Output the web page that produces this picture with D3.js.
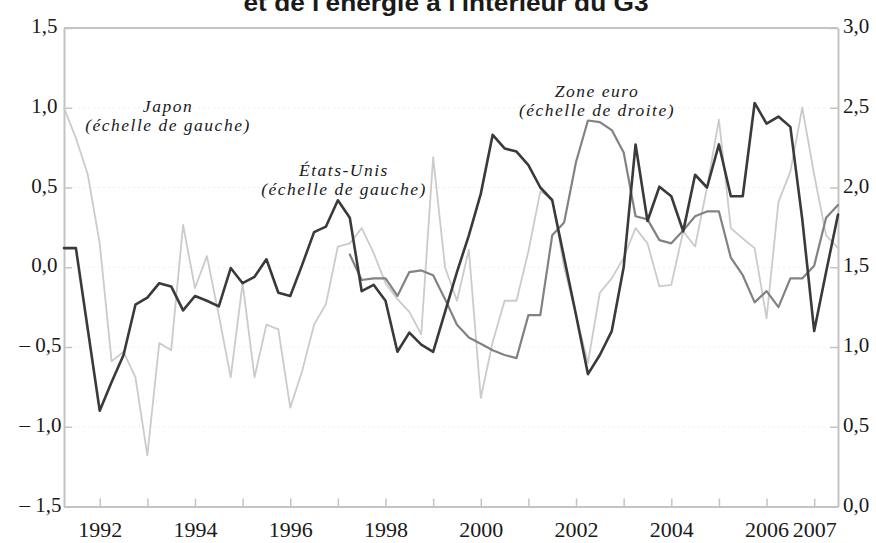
<!DOCTYPE html>
<html>
<head>
<meta charset="utf-8">
<script src="https://cdn.jsdelivr.net/npm/d3@7"></script>
<style>
  html, body { margin: 0; padding: 0; background: #fff; }
  svg { display: block; }
</style>
</head>
<body>
<svg id="chart" width="876" height="543"></svg>
<script>
// ---------- DATA (quarterly, 1991 T2 -> 2007 T3) ----------
const startYear = 1991.25;
const yearTicks = [1992,1993,1994,1995,1996,1997,1998,1999,2000,2001,2002,2003,2004,2005,2006,2007];
const yearLabels = ["1992","","1994","","1996","","1998","","2000","","2002","","2004","","2006","2007"];
const leftTicks = [-1.5,-1.0,-0.5,0.0,0.5,1.0,1.5];
const leftTickLabels = ["– 1,5","– 1,0","– 0,5","0,0","0,5","1,0","1,5"];
const rightTicks = [0.0,0.5,1.0,1.5,2.0,2.5,3.0];
const rightTickLabels = ["0,0","0,5","1,0","1,5","2,0","2,5","3,0"];

// Japon (échelle de gauche)
const japon = [1.00,0.81,0.58,0.15,-0.59,-0.53,-0.69,-1.18,-0.475,-0.52,
  0.265,-0.13,0.07,-0.30,-0.69,-0.10,-0.69,-0.36,-0.39,-0.88,
  -0.65,-0.36,-0.23,0.13,0.15,0.245,0.09,-0.10,-0.20,-0.28,
  -0.42,0.69,0.00,-0.21,0.11,-0.82,-0.47,-0.21,-0.21,0.10,
  0.475,0.43,0.00,-0.30,-0.60,-0.16,-0.07,0.06,0.245,0.15,
  -0.12,-0.11,0.225,0.13,0.50,0.925,0.245,0.18,0.12,-0.32,
  0.41,0.60,1.00,0.58,0.20,0.12];

// États-Unis (échelle de gauche)
const etatsUnis = [0.12,0.12,-0.39,-0.90,-0.72,-0.55,-0.235,-0.19,-0.10,-0.12,
  -0.27,-0.18,-0.21,-0.245,-0.005,-0.10,-0.06,0.05,-0.16,-0.18,
  0.015,0.22,0.255,0.42,0.31,-0.15,-0.11,-0.21,-0.53,-0.41,
  -0.485,-0.53,-0.28,-0.03,0.20,0.46,0.83,0.745,0.725,0.64,
  0.50,0.42,0.06,-0.30,-0.67,-0.55,-0.40,0.00,0.77,0.29,
  0.505,0.445,0.225,0.58,0.50,0.77,0.445,0.445,1.03,0.90,
  0.945,0.88,0.30,-0.40,-0.03,0.33];

// Zone euro (échelle de droite) — starts in 1997 T2
const zoneEuro = [null,null,null,null,null,null,null,null,null,null,
  null,null,null,null,null,null,null,null,null,null,
  null,null,null,null,1.58,1.42,1.43,1.43,1.32,1.47,
  1.48,1.45,1.30,1.14,1.06,1.02,0.98,0.95,0.93,1.20,
  1.20,1.70,1.78,2.16,2.42,2.41,2.36,2.22,1.82,1.80,
  1.67,1.65,1.73,1.82,1.85,1.85,1.56,1.45,1.28,1.35,
  1.25,1.43,1.43,1.51,1.81,1.89];

const quarters = japon.map((_, i) => startYear + i * 0.25);

// ---------- LAYOUT ----------
const svg = d3.select("#chart");
const L = 64, R = 838, T = 28, B = 506.5;
const frameColor = "#c4c4c4";

const x = d3.scaleLinear().domain([startYear, quarters[quarters.length - 1]]).range([L, R]);
const yL = d3.scaleLinear().domain([-1.5, 1.5]).range([B, T]);
const yR = d3.scaleLinear().domain([0, 3]).range([B, T]);

// faint dotted gridlines
svg.append("g").selectAll("line")
  .data(leftTicks.slice(1, -1))
  .join("line")
  .attr("x1", L + 9).attr("x2", R - 9)
  .attr("y1", d => yL(d)).attr("y2", d => yL(d))
  .attr("stroke", "#f0f0f0").attr("stroke-width", 1)
  .attr("stroke-dasharray", "2,3");

// top frame line
svg.append("line")
  .attr("x1", L).attr("x2", R).attr("y1", T).attr("y2", T)
  .attr("stroke", frameColor).attr("stroke-width", 2);

const serif = "'Liberation Serif', 'Times New Roman', serif";

// left axis
const gL = svg.append("g").attr("transform", `translate(${L},0)`)
  .call(d3.axisLeft(yL).tickValues(leftTicks).tickSize(-8).tickSizeOuter(0).tickPadding(6)
    .tickFormat((d, i) => leftTickLabels[i]));
// right axis
const gR = svg.append("g").attr("transform", `translate(${R},0)`)
  .call(d3.axisRight(yR).tickValues(rightTicks).tickSize(-8).tickSizeOuter(0).tickPadding(5)
    .tickFormat((d, i) => rightTickLabels[i]));
// bottom axis
const gB = svg.append("g").attr("transform", `translate(0,${B})`)
  .call(d3.axisBottom(x).tickValues(yearTicks).tickSize(-8).tickSizeOuter(0).tickPadding(15)
    .tickFormat((d, i) => yearLabels[i]));

[gL, gR, gB].forEach(g => {
  g.select(".domain").attr("stroke", frameColor).attr("stroke-width", 2);
  g.selectAll(".tick line").attr("stroke", frameColor).attr("stroke-width", 1.5);
  g.selectAll(".tick text").attr("fill", "#1a1a1a").style("font-family", serif);
});
gL.selectAll(".tick text").style("font-size", "21px").attr("dy", "0.22em")
  .attr("x", d => d < 0 ? -2.5 : -6.5);
gR.selectAll(".tick text").style("font-size", "21px").attr("dy", "0.22em");
gB.selectAll(".tick text").style("font-size", "22px");

// ---------- LINES ----------
const lineL = d3.line().defined(d => d[1] !== null).x(d => x(d[0])).y(d => yL(d[1]));
const lineR = d3.line().defined(d => d[1] !== null).x(d => x(d[0])).y(d => yR(d[1]));

const series = [
  { values: japon, line: lineL, color: "#cbcbcb", width: 1.8 },
  { values: zoneEuro, line: lineR, color: "#828282", width: 2.2 },
  { values: etatsUnis, line: lineL, color: "#3a3a3a", width: 2.6 }
];
svg.append("g").selectAll("path")
  .data(series)
  .join("path")
  .attr("d", s => s.line(quarters.map((q, i) => [q, s.values[i]])))
  .attr("fill", "none")
  .attr("stroke", s => s.color)
  .attr("stroke-width", s => s.width)
  .attr("stroke-linejoin", "round")
  .attr("stroke-linecap", "round");

// ---------- TEXT ----------
svg.append("text")
  .attr("x", 446).attr("y", 11)
  .attr("text-anchor", "middle")
  .attr("textLength", 405).attr("lengthAdjust", "spacingAndGlyphs")
  .style("font-family", "'Liberation Sans', Arial, sans-serif")
  .style("font-weight", "bold").style("font-size", "24px")
  .attr("fill", "#1a1a1a")
  .text("et de l'énergie à l'intérieur du G3");

const notes = [
  { x: 168, y: 112, lines: ["Japon", "(échelle de gauche)"] },
  { x: 344, y: 176, lines: ["États-Unis", "(échelle de gauche)"] },
  { x: 597, y: 97, lines: ["Zone euro", "(échelle de droite)"] }
];
notes.forEach(n => {
  n.lines.forEach((s, i) => {
    svg.append("text")
      .attr("x", n.x).attr("y", n.y + i * 19)
      .attr("text-anchor", "middle")
      .style("font-family", serif)
      .style("font-style", "italic")
      .style("font-size", "17.5px")
      .style("letter-spacing", "1.5px")
      .attr("fill", "#1a1a1a")
      .text(s);
  });
});
</script>
</body>
</html>
